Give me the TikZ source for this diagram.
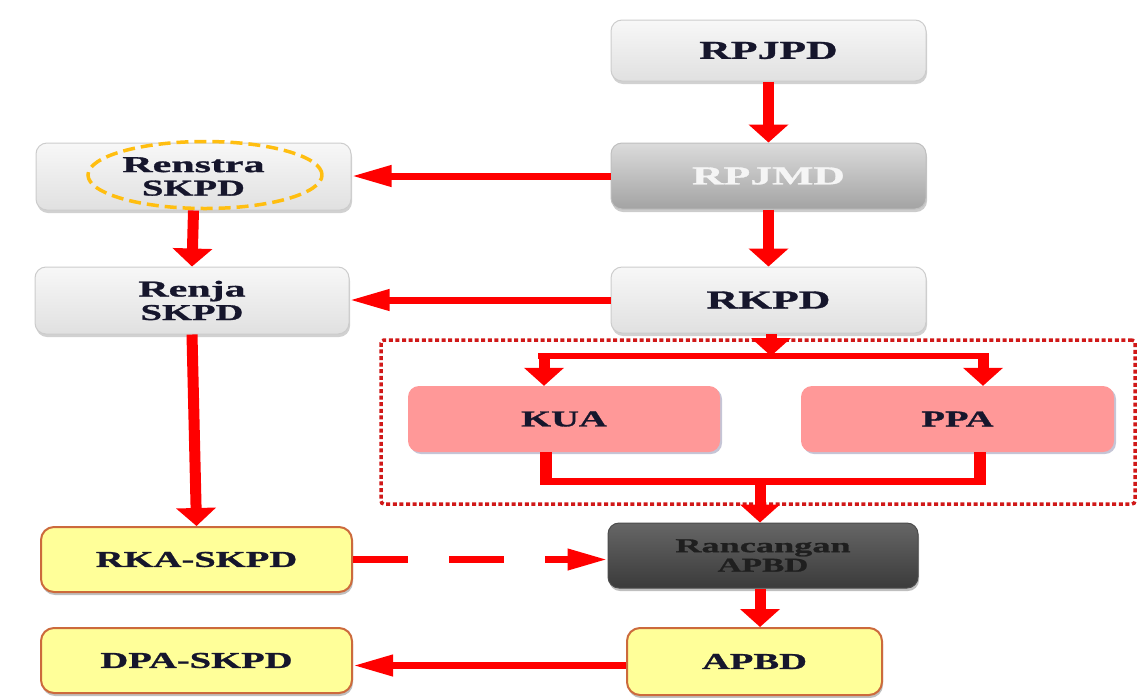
\documentclass[tikz,border=0pt]{standalone}
\usepackage{fontspec}
\newfontfamily\lblfont[FakeStretch=1.7,FakeBold=1.2]{Liberation Serif}
\newfontfamily\lblwide[FakeStretch=1.85,FakeBold=1.2]{Liberation Serif}
\usetikzlibrary{arrows.meta,shadows,shapes.geometric}
\definecolor{arrred}{HTML}{FF0000}
\definecolor{dotred}{HTML}{D01818}
\definecolor{txt}{HTML}{16162C}
\definecolor{ellorange}{HTML}{FFBE10}
\definecolor{pinkfill}{HTML}{FF9898}
\definecolor{yelfill}{HTML}{FFFF99}
\definecolor{yeldraw}{HTML}{CC6A3C}
\newcommand\fszA{\lblfont\bfseries\fontsize{25.7}{26}\selectfont}
\newcommand\fszB{\lblfont\bfseries\fontsize{22.7}{23.5}\selectfont}
\newcommand\fszC{\lblfont\bfseries\fontsize{19.6}{19.5}\selectfont}
\newcommand\wideword[1]{{\lblwide\bfseries #1}}
\tikzset{
  basebox/.style={rounded corners=11pt, inner sep=2pt, text=txt, align=center},
  graybox/.style={basebox, draw=black!20, line width=1pt, top color=black!3, bottom color=black!12,
    drop shadow={shadow xshift=1pt, shadow yshift=-3pt, opacity=0.18, fill=black}},
  midbox/.style={basebox, draw=black!25, line width=1pt, top color=black!14, bottom color=black!36,
    text=white!96!black,
    drop shadow={shadow xshift=1pt, shadow yshift=-3pt, opacity=0.2, fill=black}},
  darkbox/.style={basebox, draw=black!70, line width=1pt, top color=black!60, bottom color=black!77,
    text=black!88,
    drop shadow={shadow xshift=1pt, shadow yshift=-3pt, opacity=0.25, fill=black}},
  pinkbox/.style={basebox, draw=none, fill=pinkfill,
    drop shadow={shadow xshift=2pt, shadow yshift=-2pt, opacity=0.45, fill=blue!30!black!50}},
  yelbox/.style={basebox, rounded corners=13pt, draw=yeldraw, line width=2pt, fill=yelfill,
    drop shadow={shadow xshift=1pt, shadow yshift=-3pt, opacity=0.25, fill=black}},
  varr/.style={draw=arrred, line width=11pt, -{Triangle[length=18pt,width=39pt]}},
  harr/.style={draw=arrred, line width=7pt, -{Triangle[length=40pt,width=20pt]}},
  vline/.style={draw=arrred, line width=12pt},
  hline/.style={draw=arrred, line width=7pt},
}
\begin{document}
\begin{tikzpicture}[x=1pt,y=-1pt]
\useasboundingbox (0,0) rectangle (1138,697);
\fill[white] (0,0) rectangle (1138,697);

% group frame
\node[draw=dotred, line width=3.5pt, dash pattern=on 4pt off 2.6pt, rounded corners=3pt,
      minimum width=754pt, minimum height=164pt, inner sep=0pt] (grp) at (758,422) {};

% right column
\node[graybox, minimum width=315pt, minimum height=61pt, font=\fszA] (RPJPD) at (768.5,50.5) {RPJPD};
\node[midbox, minimum width=315pt, minimum height=66pt, font=\fszA] (RPJMD) at (768.5,176) {RPJMD};
\node[graybox, minimum width=315pt, minimum height=66pt, font=\fszA] (RKPD) at (768.5,300) {RKPD};
\node[pinkbox, minimum width=312pt, minimum height=66pt, font=\fszB] (KUA) at (564,419) {KUA};
\node[pinkbox, minimum width=313pt, minimum height=66pt, font=\fszB] (PPA) at (957.5,419) {PPA};
\node[darkbox, minimum width=310pt, minimum height=65pt, font=\fszC] (Ranc) at (763,555.5) {\wideword{Rancangan}\\APBD};
\node[yelbox, minimum width=255pt, minimum height=67pt, font=\fszB] (APBD) at (754.5,661.5) {APBD};

% left column
\node[graybox, minimum width=315pt, minimum height=67pt, font=\fszB] (Renstra) at (193.5,176.5) {\wideword{Renstra}\\SKPD};
\node[draw=ellorange, line width=3.5pt, dash pattern=on 12pt off 6pt, ellipse,
      minimum width=234pt, minimum height=67pt, inner sep=0pt] (ell) at (205,175) {};
\node[graybox, minimum width=314pt, minimum height=67pt, font=\fszB] (Renja) at (192,300.5) {\wideword{Renja}\\SKPD};
\node[yelbox, minimum width=311pt, minimum height=65pt, font=\fszB] (RKA) at (196.5,559.5) {RKA-SKPD};
\node[yelbox, minimum width=311pt, minimum height=65pt, font=\fszB] (DPA) at (196.5,660.5) {DPA-SKPD};

% helper coordinates
\coordinate (split) at (771,356);
\coordinate (kuaIn) at (544,356);
\coordinate (ppaIn) at (983,356);
\coordinate (kuaOut) at (546,481);
\coordinate (ppaOut) at (980,481);
\coordinate (merge) at (760,481);

% vertical flow
\draw[varr] (RPJPD.south) -- (RPJMD.north);
\draw[varr] (RPJMD.south) -- (RKPD.north);
\draw[varr] (RKPD.south -| split) -- (split);
\draw[hline, line width=6pt] ([xshift=-6pt]kuaIn) -- ([xshift=6pt]ppaIn);
\draw[varr] ([yshift=3pt]kuaIn) -- (kuaIn |- KUA.north);
\draw[varr] ([yshift=3pt]ppaIn) -- (ppaIn |- PPA.north);
\draw[vline] (kuaOut |- KUA.south) -- ([yshift=-3pt]kuaOut);
\draw[vline] (ppaOut |- PPA.south) -- ([yshift=-3pt]ppaOut);
\draw[hline] ([xshift=-6pt]kuaOut) -- ([xshift=6pt]ppaOut);
\draw[varr] ([yshift=3pt]merge) -- (merge |- Ranc.north);
\draw[varr] (Ranc.south -| merge) -- (merge |- APBD.north);

\draw[varr] (Renstra.south) -- (Renja.north);
\draw[varr] (Renja.south) -- (RKA.north);

% horizontal flow
\draw[harr] (RPJMD.west) -- (RPJMD.west -| Renstra.east);
\draw[harr] (RKPD.west) -- (RKPD.west -| Renja.east);
\draw[harr] ([yshift=-4pt]APBD.west) -- ([yshift=-4pt]APBD.west -| DPA.east);
\draw[harr, dash pattern=on 55pt off 41pt] (RKA.east) -- (RKA.east -| Ranc.west);
\end{tikzpicture}
\end{document}
